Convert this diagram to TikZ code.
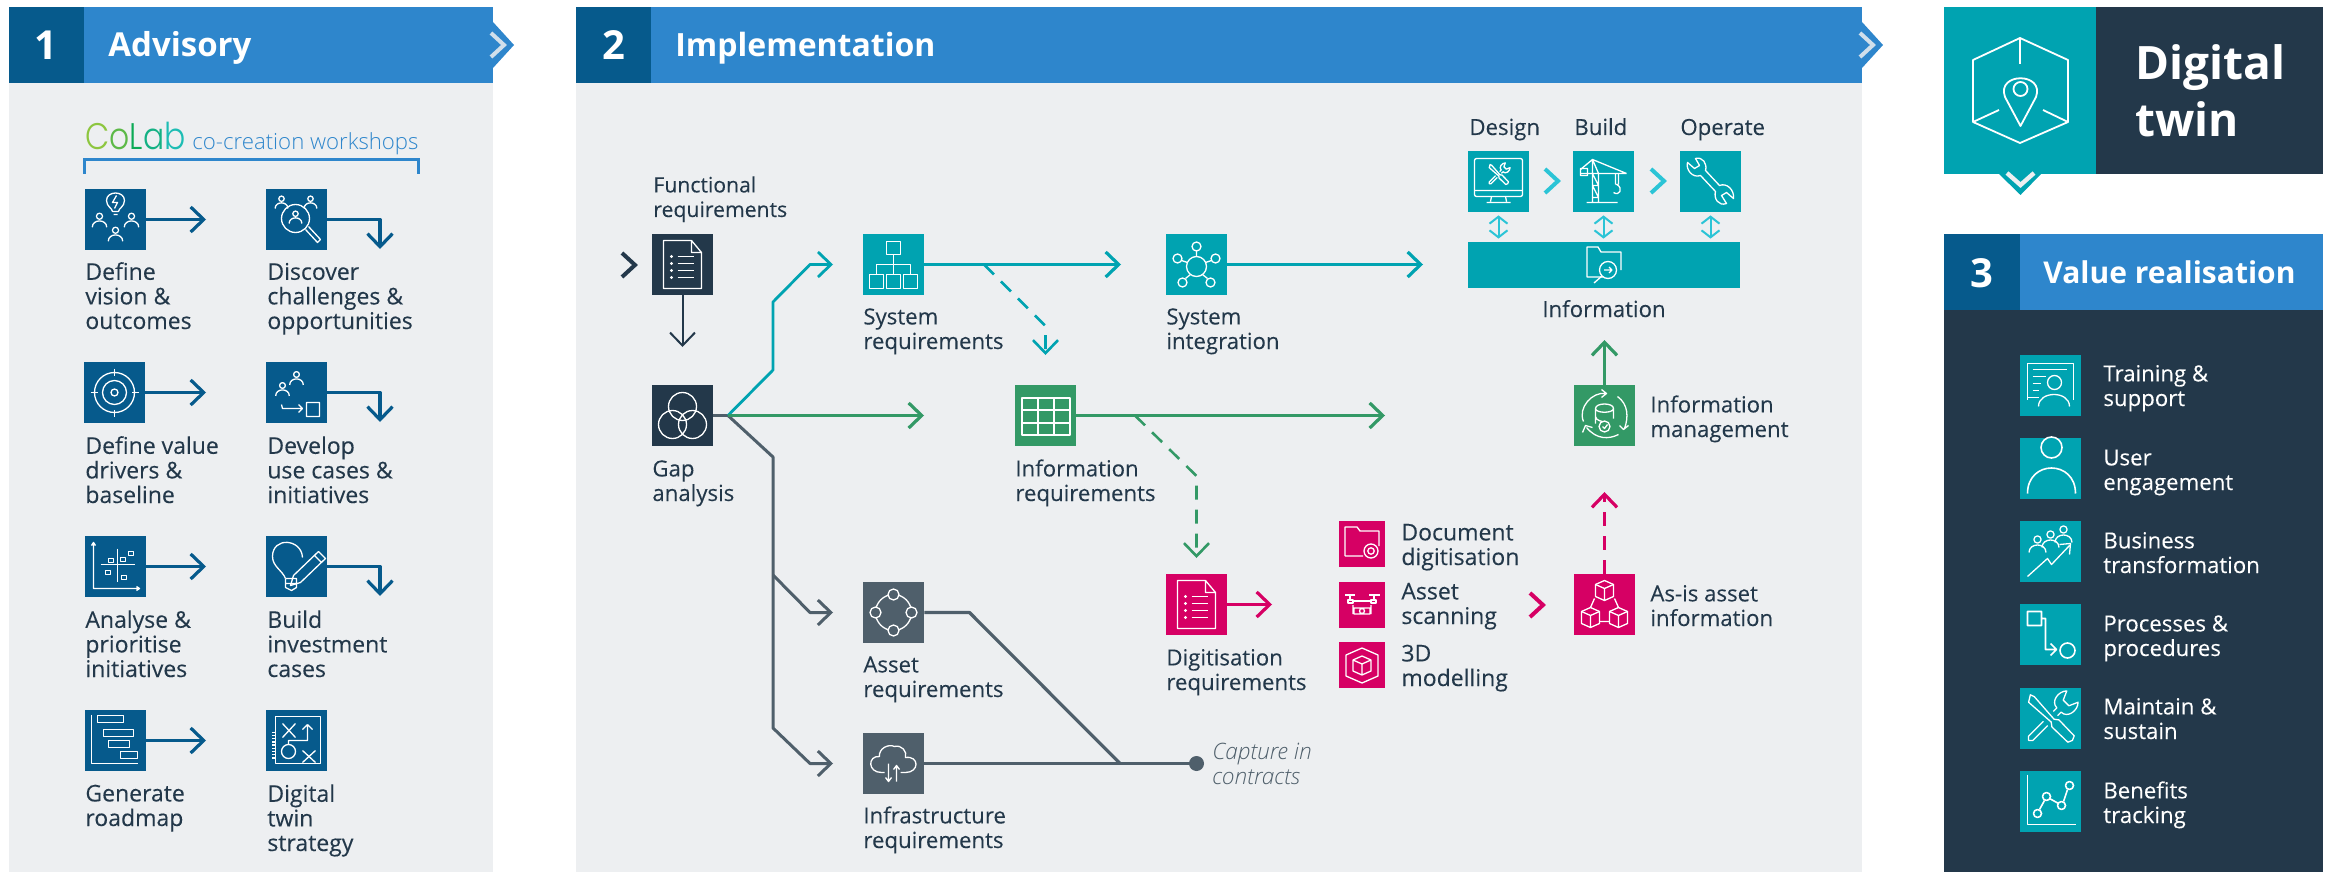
\documentclass[tikz,border=0pt]{standalone}
\usepackage{fontspec}
\setmainfont{Open Sans}
\newfontfamily\colabfont{Poppins Light}[FakeStretch=.85]
\newfontfamily\lightfont{Open Sans Light}
\newfontfamily\labfamily{Open Sans}[FakeBold=.15]
\usetikzlibrary{arrows.meta}
\definecolor{headblue}{HTML}{2E86CC}
\definecolor{numblue}{HTML}{065A8C}
\definecolor{panelgrey}{HTML}{EDEFF1}
\definecolor{inkdark}{HTML}{23384A}
\definecolor{twinteal}{HTML}{00A3B1}
\definecolor{paleteal}{HTML}{2BC4D6}
\definecolor{infogreen}{HTML}{339966}
\definecolor{digipink}{HTML}{D60064}
\definecolor{slategrey}{HTML}{4F5F6B}
\newcommand{\labfont}{\fontsize{11.1}{12.3}\labfamily}
\newcommand{\biglabfont}{\fontsize{11.5}{12.3}\labfamily}
\tikzset{
    x=.5pt, y=-.5pt,
    >={Straight Barb[length=6.5pt,width=12.5pt]},
    ico/.style={draw=white, line width=.65pt, line join=round},
    bigbox/.style={inner sep=0, minimum size=30.5pt},
    smallbox/.style={inner sep=0, minimum size=23pt},
    lab/.style={anchor=base west, align=left, inner sep=0, text=inkdark, font=\labfont},
    biglab/.style={lab, font=\biglabfont},
    wlab/.style={lab, text=white},
    head/.style={anchor=base west, inner sep=0, text=white, font=\fontsize{16}{18}\selectfont\bfseries},
    num/.style={anchor=base, inner sep=0, text=white, font=\fontsize{20}{24}\selectfont\bfseries},
    flow/.style={->, line width=1.6pt, line join=round},
    twoway/.style={{Straight Barb[length=3.5pt,width=9pt]}-{Straight Barb[length=3.5pt,width=9pt]}, paleteal, line width=1pt, shorten >=1.5pt, shorten <=1.5pt},
    chev/.style={line width=2pt, miter limit=4},
}
% white line icons, in pixels round (#2), scaled by #1
\newcommand{\iconperson}[2][1]{\begin{scope}[shift={(#2)}, scale=#1]
    \draw[ico] (0,-5) circle (3.6) (-8.5,8) .. controls (-8.5,-2) and (8.5,-2) .. (8.5,8);
\end{scope}}
\newcommand{\icondoc}[1]{\begin{scope}[shift={(#1)}]
    \draw[ico] (9,-24) -- (-19,-24) -- (-19,24) -- (19,24) -- (19,-12) -- (9,-24) -- (9,-12) -- (19,-12);
    \draw[ico] (-5,-8) -- (11,-8) (-5,-1) -- (11,-1) (-5,6) -- (11,6) (-5,13) -- (11,13);
    \fill[white] (-11,-8) circle (1.7) (-11,-1) circle (1.7) (-11,6) circle (1.7) (-11,13) circle (1.7);
\end{scope}}
\newcommand{\icontool}[2][1]{\begin{scope}[shift={(#2)}, scale=#1]
    \begin{scope}[rotate=-45]
        \draw[ico] (-31,-2.5) -- (-27,-4) -- (3,-2) -- (7,-5) -- (29,-4.5) -- (31,0) -- (29,4.5) -- (7,5) -- (3,2) -- (-27,4) -- cycle;
    \end{scope}
    \begin{scope}[rotate=45]
        \draw[ico] (-7,-3) -- (-28,-3) -- (-31,0) -- (-28,3) -- (-7,3);
        \draw[ico] (7,-3) -- (12,-3) .. controls (12,-12) and (25,-14) .. (31,-8) -- (22,-4) -- (22,4) -- (31,8) .. controls (25,14) and (12,12) .. (12,3) -- (7,3);
    \end{scope}
\end{scope}}
\newcommand{\iconcube}[1]{\begin{scope}[shift={(#1)}]
    \draw[ico] (0,-10) -- (9,-6) -- (9,6) -- (0,10) -- (-9,6) -- (-9,-6) -- cycle;
    \draw[ico] (-9,-6) -- (0,-2) -- (9,-6) (0,-2) -- (0,10);
\end{scope}}
\begin{document}
\begin{tikzpicture}
    \useasboundingbox (0,0) rectangle (2331,872);
    % panel 1
    \fill[panelgrey] (9,83) rectangle (493,872);
    \fill[headblue] (9,7) rectangle (493,83);
    \fill[numblue] (9,7) rectangle (84,83);
    \fill[headblue] (493,22) -- (514,45) -- (493,68) -- cycle;
    \draw[panelgrey!85!headblue, chev] (491,33) -- (504,45) -- (491,57);
    \node[num] (numone) at (46,60) {1};
    \node[head, font=\fontsize{16.5}{18}\selectfont\bfseries] (advisory) at (108,57) {Advisory};
    \node[inner sep=0, anchor=base west, font=\fontsize{18.5}{20}\colabfont] (colab) at (85,149)
        {\textcolor[HTML]{8DC63F}{C}\textcolor[HTML]{5CB947}{o}\textcolor[HTML]{0BAA55}{L}\textcolor[HTML]{14B184}{a}\textcolor[HTML]{1DBDB4}{b}};
    \node[inner sep=0, anchor=base west, text=headblue, font=\fontsize{11.1}{14}\lightfont] (cocreation) at (192,149) {co-creation workshops};
    \draw[headblue, line width=1.6pt] (84.5,174) -- (84.5,159.5) -- (418.5,159.5) -- (418.5,174);

    \node[bigbox, fill=numblue] (define) at (115.5,219.5) {};
    \node[bigbox, fill=numblue] (discover) at (296.5,219.5) {};
    \node[bigbox, fill=numblue] (value) at (114.5,392.5) {};
    \node[bigbox, fill=numblue] (develop) at (296.5,392.5) {};
    \node[bigbox, fill=numblue] (analyse) at (115.5,566.5) {};
    \node[bigbox, fill=numblue] (build) at (296.5,566.5) {};
    \node[bigbox, fill=numblue] (roadmap) at (115.5,740.5) {};
    \node[bigbox, fill=numblue] (strategy) at (296.5,740.5) {};

    \coordinate (defineend) at (206,219.5);
    \coordinate (valueend) at (206,392.5);
    \coordinate (analyseend) at (206,566.5);
    \coordinate (roadmapend) at (206,740.5);
    \coordinate (discoverbend) at (380,219.5);
    \coordinate (developbend) at (380,392.5);
    \coordinate (buildbend) at (380,566.5);
    \coordinate (discoverend) at (380,249);
    \coordinate (developend) at (380,422);
    \coordinate (buildend) at (380,596);
    \draw[flow, numblue] (define) -- (defineend);
    \draw[flow, numblue] (value) -- (valueend);
    \draw[flow, numblue] (analyse) -- (analyseend);
    \draw[flow, numblue] (roadmap) -- (roadmapend);
    \draw[flow, numblue] (discover) -- (discoverbend) -- (discoverend);
    \draw[flow, numblue] (develop) -- (developbend) -- (developend);
    \draw[flow, numblue] (build) -- (buildbend) -- (buildend);

    % multi-line labels sit on the baseline of their last line
    \node[biglab] (definelab) at (85,329) {Define\\vision \&\\outcomes};
    \node[biglab] (discoverlab) at (267,329) {Discover\\challenges \&\\opportunities};
    \node[biglab] (valuelab) at (85,503) {Define value\\drivers \&\\baseline};
    \node[biglab] (developlab) at (267,503) {Develop\\use cases \&\\initiatives};
    \node[biglab] (analyselab) at (85,677) {Analyse \&\\prioritise\\initiatives};
    \node[biglab] (buildlab) at (267,677) {Build\\investment\\cases};
    \node[biglab] (roadmaplab) at (85,826) {Generate\\roadmap};
    \node[biglab] (strategylab) at (267,851) {Digital\\twin\\strategy};

    % icons of panel 1
    \begin{scope}[shift={(define.center)}]
        \draw[ico] (-3,-8) .. controls (-3,-11) and (-9,-13) .. (-9,-19) .. controls (-9,-29) and (9,-29) .. (9,-19) .. controls (9,-13) and (3,-11) .. (3,-8) -- cycle (-2,-5) -- (2,-5);
        \draw[ico] (1,-24) -- (-3,-17) -- (2,-17) -- (-1,-11);
        \iconperson[.85]{-16,1}
        \iconperson[.85]{16,1}
        \iconperson[.85]{0,15}
    \end{scope}
    \begin{scope}[shift={(discover.center)}]
        \draw[ico] (-1,-1) circle (14);
        \draw[ico] (9,10) -- (21,23) -- (24,20) -- (12,7);
        \iconperson[.75]{-1,-2}
        \iconperson[.75]{-15,-17}
        \iconperson[.75]{14,-17}
    \end{scope}
    \begin{scope}[shift={(value.center)}]
        \draw[ico] (0,0) circle (20) (0,0) circle (12) (0,0) circle (3.5);
        \draw[ico] (0,-24) -- (0,-17) (0,24) -- (0,17) (-24,0) -- (-17,0) (24,0) -- (17,0);
    \end{scope}
    \begin{scope}[shift={(develop.center)}]
        \iconperson[.8]{-14,-3}
        \iconperson[.8]{0,-14}
        \draw[ico] (10,10) rectangle (23,24) (-15,12) -- (-14,16) -- (6,16) (2,12) -- (6,16) -- (2,20);
    \end{scope}
    \begin{scope}[shift={(analyse.center)}]
        \draw[ico] (-22,-24) -- (-22,22) -- (24,22) (-24,-21) -- (-22,-24) -- (-20,-21) (21,20) -- (24,22) -- (21,24);
        \draw[ico] (-15,-2) -- (19,-2) (2,-18) -- (2,15);
        \draw[ico] (-7,-8) rectangle ++(5,4) (5,-9) rectangle ++(5,4) (13,-15) rectangle ++(5,4) (-10,4) rectangle ++(5,4) (6,9) rectangle ++(5,4);
    \end{scope}
    \begin{scope}[shift={(build.center)}]
        \draw[ico] (-11,12) .. controls (-14,4) and (-24,0) .. (-24,-10) .. controls (-24,-30) and (5,-28) .. (6,-9);
        \draw[ico] (-11,12) -- (-11,21) -- (-5,24) -- (0,21) -- (0,12) -- (-11,12) (-11,17) -- (0,17);
        \draw[ico] (-3,9) -- (22,-15) -- (29,-8) -- (4,16) -- (-6,19) -- cycle (18,-11) -- (25,-4);
    \end{scope}
    \begin{scope}[shift={(roadmap.center)}]
        \draw[ico] (-24,-26) -- (-24,23) -- (22,23);
        \draw[ico] (-18,-25) rectangle (8,-18) (-12,-11) rectangle (18,-4) (-7,0) rectangle (14,7) (5,11) rectangle (22,18);
    \end{scope}
    \begin{scope}[shift={(strategy.center)}]
        \draw[ico] (-21,-24) rectangle (24,23);
        \draw[ico] (-14,-17) -- (-1,-3) (-14,-3) -- (-1,-17) (6,10) -- (19,22) (6,22) -- (19,10);
        \draw[ico] (-8,11) circle (7) (-8,4) -- (-8,0) -- (11,0) -- (11,-16) (6,-11) -- (11,-16) (16,-11) -- (11,-16);
        \draw[ico, line width=1.6pt, dash pattern=on .7pt off .9pt] (-23,-9) -- (-23,18);
    \end{scope}

    % panel 2
    \fill[panelgrey] (576,83) rectangle (1862,872);
    \fill[headblue] (576,7) rectangle (1862,83);
    \fill[numblue] (576,7) rectangle (651,83);
    \fill[headblue] (1862,22) -- (1883,45) -- (1862,68) -- cycle;
    \draw[panelgrey!85!headblue, chev] (1860,33) -- (1873,45) -- (1860,57);
    \node[num] (numtwo) at (614,60) {2};
    \node[head] (implementation) at (675,57) {Implementation};

    \node[bigbox, fill=inkdark] (functional) at (682.5,264.5) {};
    \node[bigbox, fill=inkdark] (gap) at (682.5,415.5) {};
    \node[bigbox, fill=twinteal] (system) at (893.5,264.5) {};
    \node[bigbox, fill=twinteal] (integration) at (1196.5,264.5) {};
    \node[bigbox, fill=infogreen] (inforeq) at (1045.5,415.5) {};
    \node[bigbox, fill=slategrey] (asset) at (893.5,612.5) {};
    \node[bigbox, fill=slategrey] (infra) at (893.5,763.5) {};
    \node[bigbox, fill=digipink] (digitise) at (1196.5,604.5) {};
    \node[bigbox, fill=twinteal] (design) at (1498.5,181.5) {};
    \node[bigbox, fill=twinteal] (buildup) at (1603.5,181.5) {};
    \node[bigbox, fill=twinteal] (operate) at (1710.5,181.5) {};
    \node[inner sep=0, fill=twinteal, minimum width=136pt, minimum height=23pt] (information) at (1604,265) {};
    \node[bigbox, fill=infogreen] (infomgmt) at (1604.5,415.5) {};
    \node[bigbox, fill=digipink] (asis) at (1604.5,604.5) {};
    \node[smallbox, fill=digipink] (document) at (1362,544) {};
    \node[smallbox, fill=digipink] (scanning) at (1362,605) {};
    \node[smallbox, fill=digipink] (modelling) at (1362,665) {};

    \node[lab, font=\fontsize{10.6}{12.3}\labfamily] (functionallab) at (653,217) {Functional\\requirements};
    \node[lab] (gaplab) at (652,501) {Gap\\analysis};
    \node[lab] (systemlab) at (863,349) {System\\requirements};
    \node[lab] (integrationlab) at (1166,349) {System\\integration};
    \node[lab] (inforeqlab) at (1015,501) {Information\\requirements};
    \node[lab] (assetlab) at (863,697) {Asset\\requirements};
    \node[lab] (infralab) at (863,848) {Infrastructure\\requirements};
    \node[lab] (digitiselab) at (1166,690) {Digitisation\\requirements};
    \node[lab, text=slategrey, font=\fontsize{11.3}{12.3}\lightfont\itshape] (capturelab) at (1212,784) {Capture in\\contracts};
    \node[lab] (designlab) at (1469,135) {Design};
    \node[lab] (buildlab2) at (1574,135) {Build};
    \node[lab] (operatelab) at (1680,135) {Operate};
    \node[lab, anchor=base] (informationlab) at (1604,317) {Information};
    \node[lab] (infomgmtlab) at (1650,437) {Information\\management};
    \node[lab] (asislab) at (1650,626) {As-is asset\\information};
    \node[biglab] (documentlab) at (1401,565) {Document\\digitisation};
    \node[biglab] (scanninglab) at (1401,624) {Asset\\scanning};
    \node[biglab] (modellinglab) at (1401,686) {3D\\modelling};

    \coordinate (gapjoin) at (728,415.5);
    \coordinate (tealbend) at (773,370);
    \coordinate (tealup) at (773,302);
    \coordinate (tealin) at (810,264.5);
    \coordinate (tealend) at (833,264.5);
    \coordinate (greenend) at (924,415.5);
    \coordinate (greybend) at (773,457);
    \coordinate (greyfork) at (773,575);
    \coordinate (greydown) at (773,728);
    \coordinate (assetin) at (810,612.5);
    \coordinate (assetend) at (833,612.5);
    \coordinate (infrain) at (810,763.5);
    \coordinate (infraend) at (833,763.5);
    \coordinate (functionalend) at (682.5,347);
    \coordinate (systemend) at (1121,264.5);
    \coordinate (systemfork) at (984,264.5);
    \coordinate (systemkink) at (1045.5,326);
    \coordinate (systemdash) at (1045.5,355);
    \coordinate (integrationend) at (1423,264.5);
    \coordinate (inforeqend) at (1385,415.5);
    \coordinate (inforeqfork) at (1135,415.5);
    \coordinate (inforeqkink) at (1196.5,476);
    \coordinate (inforeqdash) at (1196.5,558);
    \coordinate (digitiseend) at (1272,604.5);
    \coordinate (assetbend) at (969.5,612.5);
    \coordinate (capturejoin) at (1120,763.5);
    \coordinate (captureend) at (1196.5,763.5);
    \coordinate (infomgmtend) at (1604.5,340);
    \coordinate (asisend) at (1604.5,492);

    \draw[flow, inkdark, line width=1pt] (functional) -- (functionalend);
    \draw[line width=1.6pt, slategrey] (gap) -- (gapjoin);
    \draw[flow, twinteal, line width=1.4pt] (gapjoin) -- (tealbend) -- (tealup) -- (tealin) -- (tealend);
    \draw[flow, slategrey, line width=1.5pt] (gapjoin) -- (greybend) -- (greydown) -- (infrain) -- (infraend);
    \draw[flow, slategrey, line width=1.5pt] (greyfork) -- (assetin) -- (assetend);
    \draw[flow, infogreen] (gapjoin) -- (greenend);
    \draw[flow, twinteal] (system) -- (systemend);
    \draw[flow, twinteal, line width=1.3pt, dash pattern=on 7pt off 5pt] (systemfork) -- (systemkink) -- (systemdash);
    \draw[flow, twinteal] (integration) -- (integrationend);
    \draw[flow, infogreen] (inforeq) -- (inforeqend);
    \draw[flow, infogreen, line width=1.3pt, dash pattern=on 7pt off 5pt] (inforeqfork) -- (inforeqkink) -- (inforeqdash);
    \draw[flow, digipink] (digitise) -- (digitiseend);
    \draw[line width=1.6pt, slategrey, line join=round] (asset) -- (assetbend) -- (capturejoin);
    \draw[line width=1.6pt, slategrey] (infra) -- (captureend);
    \fill[slategrey] (captureend) circle (7.5);
    \draw[flow, infogreen] (infomgmt) -- (infomgmtend);
    \draw[flow, digipink, dash pattern=on 7pt off 5pt] (asis) -- (asisend);
    \draw[twoway] (design) -- (design |- information.north);
    \draw[twoway] (buildup) -- (buildup |- information.north);
    \draw[twoway] (operate) -- (operate |- information.north);

    \draw[inkdark, chev] (622,253) -- (635,265) -- (622,277);
    \draw[paleteal, chev] (1545,169) -- (1558,181) -- (1545,193);
    \draw[paleteal, chev] (1651,169) -- (1664,181) -- (1651,193);
    \draw[digipink, chev] (1530,593) -- (1543,605) -- (1530,617);

    % icons of panel 2
    \icondoc{functional.center}
    \icondoc{digitise.center}
    \draw[ico, shift={(gap.center)}] (0,-9) circle (14) (-10,9) circle (14) (10,9) circle (14);
    \begin{scope}[shift={(system.center)}]
        \draw[ico] (-7,-23) rectangle (7,-10) (0,-10) -- (0,10) (-17,10) -- (-17,0) -- (17,0) -- (17,10);
        \draw[ico] (-24,10) rectangle (-10,24) (-7,10) rectangle (7,24) (10,10) rectangle (24,24);
    \end{scope}
    \begin{scope}[shift={(integration.center)}]
        \draw[ico] (0,2) circle (10) (0,-18) circle (4.5) (-19,-6) circle (4.5) (19,-6) circle (4.5) (-14,18) circle (4.5) (14,18) circle (4.5);
        \draw[ico] (0,-14) -- (0,-8) (-15,-4) -- (-9,-2) (15,-4) -- (9,-2) (-11,14) -- (-6,10) (11,14) -- (6,10);
    \end{scope}
    \begin{scope}[shift={(inforeq.center)}]
        \draw[ico, line width=1pt] (-24,-18) rectangle (24,19) (-8,-18) -- (-8,19) (8,-18) -- (8,19) (-24,-6) -- (24,-6) (-24,7) -- (24,7);
    \end{scope}
    \begin{scope}[shift={(asset.center)}]
        \draw[ico] (0,0) circle (18);
        \filldraw[ico, fill=slategrey] (0,-18) circle (5.5) (0,18) circle (5.5) (-18,0) circle (5.5) (18,0) circle (5.5);
    \end{scope}
    \begin{scope}[shift={(infra.center)}]
        \draw[ico] (-9,9) -- (-12,9) .. controls (-26,9) and (-26,-8) .. (-14,-7) .. controls (-15,-15) and (-5,-20) .. (1,-17) .. controls (8,-19) and (14,-12) .. (12,-6) .. controls (26,-8) and (26,9) .. (12,9) -- (7,9);
        \draw[ico] (-5,0) -- (-5,18) (-8,14) -- (-5,18) -- (-2,14) (3,18) -- (3,2) (0,6) -- (3,2) -- (6,6);
    \end{scope}
    \begin{scope}[shift={(design.center)}]
        \draw[ico, rounded corners=1pt] (-24,-23) rectangle (24,15);
        \draw[ico] (-24,9) -- (24,9) (-7,15) -- (-8,20) (7,15) -- (8,20) (-12,21) -- (12,21);
        \icontool[.42]{0,-7}
    \end{scope}
    \begin{scope}[shift={(buildup.center)}]
        \draw[ico] (-17,21) -- (14,21) (-11,21) -- (-11,-8) (-5,21) -- (-5,-8) (-11,-8) -- (-5,4) -- (-11,4) -- (-5,16) -- (-11,16);
        \draw[ico] (-23,-8) -- (23,-8) (-23,-12) -- (-11,-22) -- (23,-8) (-11,-22) -- (-11,-8) (-5,-8) -- (-11,-22);
        \draw[ico] (-23,-13) rectangle (-16,-6) (12,-8) -- (12,3) (15,-8) -- (15,3) (12,3) -- (15,3) (13.5,3) .. controls (20,7) and (16,15) .. (10,11);
    \end{scope}
    \begin{scope}[shift={(operate.center)}]
        \draw[ico] (-5,-11) -- (9,4) .. controls (16,1) and (24,8) .. (23,17) -- (16,11) -- (11,14) -- (16,22) .. controls (8,25) and (3,17) .. (5,10) -- (-10,-6) .. controls (-18,-3) and (-25,-12) .. (-23,-19) -- (-16,-13) -- (-11,-16) -- (-15,-23) .. controls (-8,-25) and (-3,-18) .. (-5,-11) -- cycle;
    \end{scope}
    \begin{scope}[shift={(information.center)}]
        \draw[ico] (-1,12) -- (-17,12) -- (-17,-18) -- (-6,-18) -- (-3,-13) -- (17,-13) -- (17,5);
        \draw[ico] (4,5) circle (8.5) (-2,11) -- (-10,18) (0,5) -- (8,5) (5,2) -- (8,5) -- (5,8);
    \end{scope}
    \begin{scope}[shift={(infomgmt.center)}]
        \draw[ico] (-9,-7) .. controls (-9,-13) and (9,-13) .. (9,-7) .. controls (9,-2) and (-9,-2) .. (-9,-7) -- (-9,8) (9,-7) -- (9,3) (-9,1) .. controls (-9,5) and (-2,6) .. (-2,6);
        \filldraw[ico, fill=infogreen] (0,11) circle (5.5);
        \draw[ico] (-2,11) -- (0,13) -- (3,9);
        \draw[ico] (-21,6) .. controls (-27,-8) and (-12,-24) .. (1,-22) (-3,-26) -- (2,-22) -- (-3,-18);
        \draw[ico] (13,-19) .. controls (24,-11) and (24,2) .. (20,13) (15,10) -- (19,14) -- (24,10);
        \draw[ico] (14,19) .. controls (4,24) and (-8,24) .. (-18,12) (-22,17) -- (-19,10) -- (-12,12);
    \end{scope}
    \begin{scope}[shift={(asis.center)}]
        \iconcube{0,-14}
        \iconcube{-14,13}
        \iconcube{14,13}
        \draw[ico] (-10,-6) -- (-14,3) (10,-6) -- (14,3) (-5,17) -- (5,17);
    \end{scope}
    \begin{scope}[shift={(document.center)}]
        \draw[ico] (-17,12) -- (-17,-17) -- (-5,-17) -- (-2,-13) -- (17,-13) -- (17,2) (-17,12) -- (1,12);
        \filldraw[ico, fill=digipink] (9,7) circle (7);
        \draw[ico] (9,7) circle (3.2);
    \end{scope}
    \begin{scope}[shift={(scanning.center)}]
        \draw[ico] (-17,-10) -- (-7,-10) (7,-10) -- (18,-10) (-12,-10) -- (-12,-5) (12,-10) -- (12,-5) (-14,-5) rectangle (-9,-2) (9,-5) rectangle (14,-2) (-9,-4) -- (9,-4);
        \draw[ico] (-8,3) rectangle (8,9) (0,6) circle (2.5) (-9,9) -- (-9,0) (9,0) -- (9,9);
    \end{scope}
    \begin{scope}[shift={(modelling.center)}]
        \draw[ico] (0,-17) -- (16,-10) -- (16,11) -- (0,18) -- (-16,11) -- (-16,-10) -- cycle;
        \draw[ico] (-9,-5) -- (0,-9) -- (9,-5) -- (9,6) -- (0,10) -- (-9,6) -- cycle (-9,-5) -- (0,-1) -- (9,-5) (0,-1) -- (0,10);
    \end{scope}

    % digital twin
    \fill[twinteal] (1944,7) rectangle (2096,174);
    \fill[inkdark] (2096,7) rectangle (2323,174);
    \fill[twinteal] (1999,174) -- (2020.5,195) -- (2041,174) -- cycle;
    \draw[panelgrey, line width=2.2pt] (2007,173) -- (2020.5,185) -- (2034,173);
    \node[head, font=\fontsize{23}{28}\selectfont\bfseries, align=left] (twin) at (2135,137) {Digital\\[.5pt]twin};
    \draw[white, line width=.9pt, line join=round] (2020,38) -- (2068,60) -- (2068,122) -- (2020,143) -- (1973,122) -- (1973,60) -- cycle;
    \draw[white, line width=.9pt] (2020,38) -- (2020,64) (1973,122) -- (1999,110) (2068,122) -- (2043,110);
    \draw[white, line width=.9pt, line join=round] (2020.5,126) -- (2005,97) .. controls (1996,72) and (2045,72) .. (2036,97) -- cycle (2020.5,89) circle (7);

    % panel 3
    \fill[inkdark] (1944,310) rectangle (2323,872);
    \fill[headblue] (1944,234) rectangle (2323,310);
    \fill[numblue] (1944,234) rectangle (2020,310);
    \node[num] (numthree) at (1982,287) {3};
    \node[head, font=\fontsize{15}{18}\selectfont\bfseries] (realisation) at (2043,283) {Value realisation};

    \node[bigbox, fill=twinteal] (training) at (2050.5,385.5) {};
    \node[bigbox, fill=twinteal] (user) at (2050.5,468.5) {};
    \node[bigbox, fill=twinteal] (business) at (2050.5,551.5) {};
    \node[bigbox, fill=twinteal] (processes) at (2050.5,634.5) {};
    \node[bigbox, fill=twinteal] (maintain) at (2050.5,718.5) {};
    \node[bigbox, fill=twinteal] (benefits) at (2050.5,801.5) {};
    \node[wlab] (traininglab) at (2103,406) {Training \&\\support};
    \node[wlab] (userlab) at (2103,490) {User\\engagement};
    \node[wlab] (businesslab) at (2103,573) {Business\\transformation};
    \node[wlab] (processeslab) at (2103,656) {Processes \&\\procedures};
    \node[wlab] (maintainlab) at (2103,739) {Maintain \&\\sustain};
    \node[wlab] (benefitslab) at (2103,823) {Benefits\\tracking};

    \begin{scope}[shift={(training.center)}]
        \draw[ico] (-23,14) -- (-23,-22) -- (23,-22) -- (23,14) (-23,12) -- (-12,12) (-18,-16) -- (16,-16) (-18,-9) -- (-5,-9) (-18,-2) -- (-10,-2) (-18,5) -- (-12,5);
        \draw[ico] (4,-3) circle (7) (-12,21) .. controls (-12,5) and (19,5) .. (19,21);
    \end{scope}
    \begin{scope}[shift={(user.center)}]
        \draw[ico, line width=.8pt] (1,-21) circle (10.5) (-23,25) .. controls (-23,-9) and (25,-9) .. (25,25);
    \end{scope}
    \begin{scope}[shift={(business.center)}]
        \iconperson{-13,-7}
        \iconperson{0,-12}
        \iconperson{13,-17}
        \draw[ico] (-23,25) -- (-3,7) -- (1,13) -- (19,-6) (9,-7) -- (20,-8) -- (19,3);
    \end{scope}
    \begin{scope}[shift={(processes.center)}]
        \draw[ico, line width=.8pt] (-23,-23) rectangle (-9,-9) (-9,-16) -- (-5,-16) -- (-5,15) -- (5,15) (0,9) -- (6,15) -- (0,21) (17,16) circle (7.5);
    \end{scope}
    \icontool{maintain.center}
    \begin{scope}[shift={(benefits.center)}]
        \draw[ico, line width=.8pt] (-23,-27) -- (-23,23) -- (25,23);
        \draw[ico, line width=.8pt] (-13,12) circle (4) (-4,-5) circle (4) (11,4) circle (4) (19,-16) circle (4);
        \draw[ico, line width=.8pt] (-11,8) -- (-6,-1) (-1,-3) -- (8,2) (13,0) -- (17,-12);
    \end{scope}
\end{tikzpicture}
\end{document}
